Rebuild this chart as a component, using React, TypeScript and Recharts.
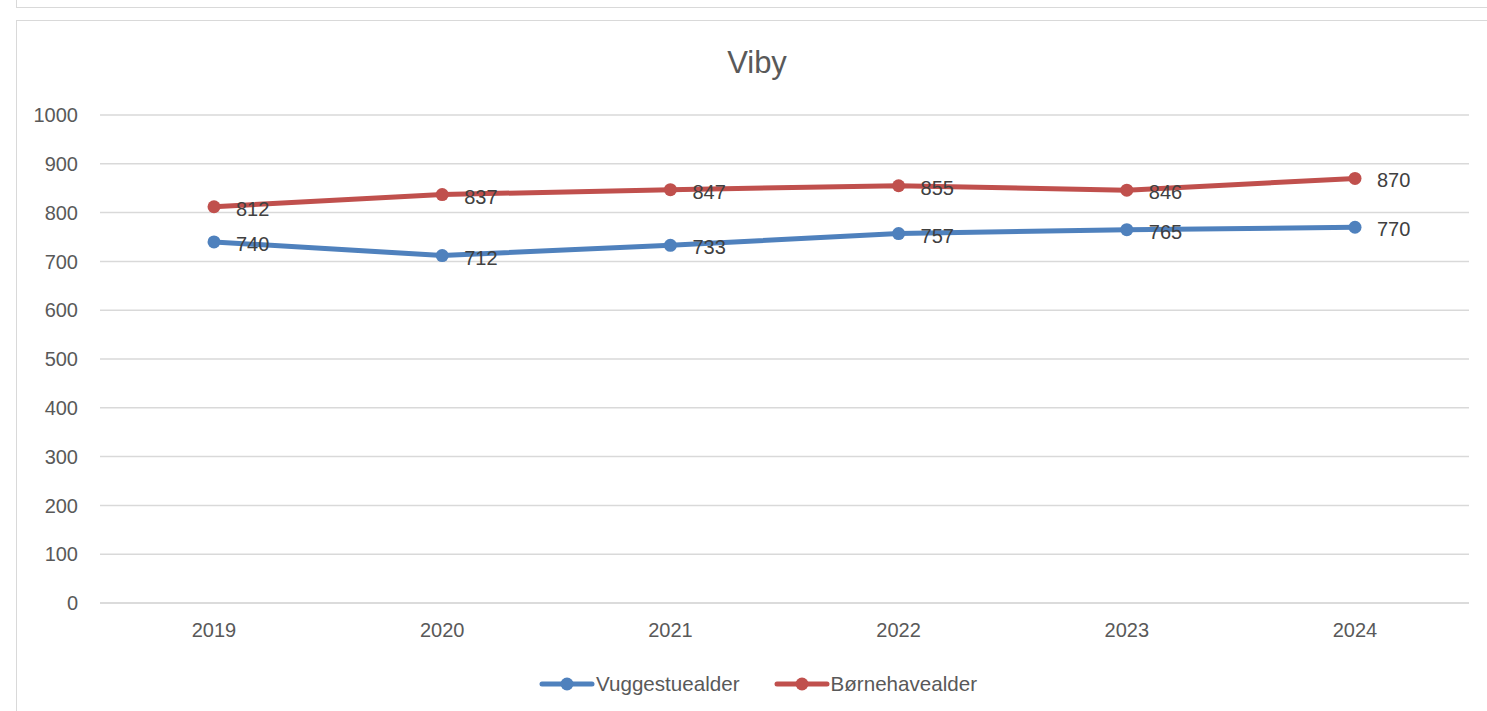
import React from "react"
import { LineChart, Line, XAxis, YAxis, CartesianGrid, LabelList } from "recharts"

const years = ["2019", "2020", "2021", "2022", "2023", "2024"]
const vuggestue = [740, 712, 733, 757, 765, 770]
const boernehave = [812, 837, 847, 855, 846, 870]
const yTicks = [0, 100, 200, 300, 400, 500, 600, 700, 800, 900, 1000]

const seriesNames = ["Vuggestuealder", "Børnehavealder"]
const seriesColors = ["#4F81BD", "#C0504D"]

const data = years.map((year, i) => ({
  year,
  vuggestue: vuggestue[i],
  boernehave: boernehave[i],
}))

const FONT = '"Liberation Sans", Arial, sans-serif'

function PointLabel(props: any) {
  const { x, y, value } = props
  return (
    <text x={x + 22} y={y + 9} fill="#404040" fontSize={20} fontFamily={FONT}>
      {value}
    </text>
  )
}

function LegendItem({ name, color }: { name: string; color: string }) {
  return (
    <div style={{ display: "flex", alignItems: "center", marginRight: 34 }}>
      <svg width={56} height={14} style={{ marginRight: 1 }}>
        <line x1={3} y1={7} x2={53} y2={7} stroke={color} strokeWidth={5} strokeLinecap="round" />
        <circle cx={28} cy={7} r={6.5} fill={color} />
      </svg>
      <span style={{ fontSize: 20.6, color: "#595959", fontFamily: FONT }}>{name}</span>
    </div>
  )
}

export default function App() {
  return (
    <div
      style={{
        position: "absolute",
        left: 0,
        top: 0,
        width: 1487,
        height: 711,
        overflow: "hidden",
        background: "#fff",
        fontFamily: FONT,
      }}
    >
      {/* bottom edge of the box above */}
      <div
        style={{
          position: "absolute",
          left: 16,
          top: -20,
          width: 1500,
          height: 26,
          border: "1px solid #d9d9d9",
        }}
      />
      {/* chart box */}
      <div
        style={{
          position: "absolute",
          left: 16,
          top: 20,
          width: 1500,
          height: 720,
          border: "1px solid #d9d9d9",
        }}
      />
      <div
        style={{
          position: "absolute",
          left: 0,
          top: 45,
          width: 1514,
          textAlign: "center",
          fontSize: 31,
          color: "#595959",
        }}
      >
        Viby
      </div>
      <div style={{ position: "absolute", left: 0, top: 0 }}>
        <LineChart
          width={1487}
          height={711}
          data={data}
          margin={{ top: 115, right: 18, bottom: 78, left: 0 }}
        >
          <CartesianGrid vertical={false} stroke="#d9d9d9" strokeWidth={1.5} />
          <XAxis
            dataKey="year"
            axisLine={{ stroke: "#d9d9d9", strokeWidth: 1.5 }}
            tickLine={false}
            tickMargin={14}
            height={30}
            padding={{ left: 114, right: 114 }}
            tick={{ fill: "#595959", fontSize: 20, fontFamily: FONT }}
          />
          <YAxis
            domain={[0, 1000]}
            ticks={yTicks}
            width={100}
            axisLine={false}
            tickLine={false}
            tickMargin={16}
            interval={0}
            tick={{ fill: "#595959", fontSize: 20, fontFamily: FONT }}
          />
          <Line
            dataKey="vuggestue"
            name={seriesNames[0]}
            stroke={seriesColors[0]}
            strokeWidth={5}
            dot={{ r: 6.5, fill: seriesColors[0], stroke: seriesColors[0], strokeWidth: 0 }}
            isAnimationActive={false}
          >
            <LabelList dataKey="vuggestue" content={PointLabel} />
          </Line>
          <Line
            dataKey="boernehave"
            name={seriesNames[1]}
            stroke={seriesColors[1]}
            strokeWidth={5}
            dot={{ r: 6.5, fill: seriesColors[1], stroke: seriesColors[1], strokeWidth: 0 }}
            isAnimationActive={false}
          >
            <LabelList dataKey="boernehave" content={PointLabel} />
          </Line>
        </LineChart>
      </div>
      <div
        style={{
          position: "absolute",
          left: 539,
          top: 672,
          display: "flex",
          alignItems: "center",
        }}
      >
        {seriesNames.map((n, i) => (
          <LegendItem key={n} name={n} color={seriesColors[i]} />
        ))}
      </div>
    </div>
  )
}
